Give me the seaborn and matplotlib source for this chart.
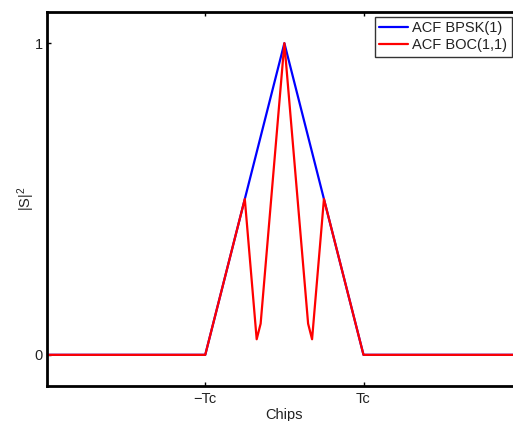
import matplotlib
matplotlib.use("Agg")
import matplotlib.pyplot as plt
import seaborn as sns
import pandas as pd

# Autocorrelation magnitude breakpoints (delay in chips)
bpsk_delay = [-3.0, -1.0, 0.0, 1.0, 3.0]
bpsk_value = [0.0, 0.0, 1.0, 0.0, 0.0]

boc_delay = [-3.0, -1.0, -0.5, -0.35, -0.3, 0.0, 0.3, 0.35, 0.5, 1.0, 3.0]
boc_value = [0.0, 0.0, 0.5, 0.05, 0.1, 1.0, 0.1, 0.05, 0.5, 0.0, 0.0]

series_names = ["ACF BPSK(1)", "ACF BOC(1,1)"]
tick_positions = [-1, 1]
tick_labels = ["\u2212Tc", "Tc"]

sns.set_style("white")
plt.rcParams["font.family"] = ["Liberation Sans", "DejaVu Sans"]
plt.rcParams["mathtext.fontset"] = "custom"
plt.rcParams["mathtext.rm"] = "Liberation Sans"
plt.rcParams["mathtext.it"] = "Liberation Sans"

FS = 10.5

df = pd.concat([
    pd.DataFrame({"delay": bpsk_delay, "value": bpsk_value, "signal": series_names[0]}),
    pd.DataFrame({"delay": boc_delay, "value": boc_value, "signal": series_names[1]}),
])

fig = plt.figure(figsize=(5.13, 4.21), dpi=100)
ax = fig.add_axes([47 / 513, 35 / 421, (521.75 - 47) / 513, (386 - 12) / 421])

sns.lineplot(data=df, x="delay", y="value", hue="signal",
             palette=["#0000ff", "#ff0000"], linewidth=1.6,
             sort=False, estimator=None, ax=ax)

ax.set_xlim(-3, 3)
ax.set_ylim(-0.1, 1.1)
ax.set_xticks(tick_positions)
ax.set_xticklabels(tick_labels)
ax.set_yticks([0, 1])
ax.set_yticklabels(["0", "1"])
ax.tick_params(direction="in", length=3, width=1, labelsize=FS, colors="black",
               top=True, right=True, bottom=True, left=True, pad=3)
ax.tick_params(axis="x", pad=4.5)
for lbl in ax.get_xticklabels() + ax.get_yticklabels():
    lbl.set_color("#222222")
ax.set_xlabel("Chips", fontsize=FS, labelpad=1.5, color="#222222")
ax.set_ylabel("$|\\mathrm{S}|^2$", fontsize=FS, labelpad=-2, color="#222222")

for side in ["top", "bottom", "left", "right"]:
    ax.spines[side].set_visible(True)
    ax.spines[side].set_color("black")
    ax.spines[side].set_linewidth(2.0)

leg = ax.legend(loc="upper left", bbox_to_anchor=((375 - 47) / (521.75 - 47), 1 - 5 / 374),
                fontsize=FS, frameon=True, fancybox=False, edgecolor="black",
                handlelength=1.95, handletextpad=0.3, borderpad=0.3,
                labelspacing=0.2, borderaxespad=0)
leg.get_frame().set_linewidth(1.0)
for t in leg.get_texts():
    t.set_color("#222222")

fig.savefig("out.png", dpi=100)
